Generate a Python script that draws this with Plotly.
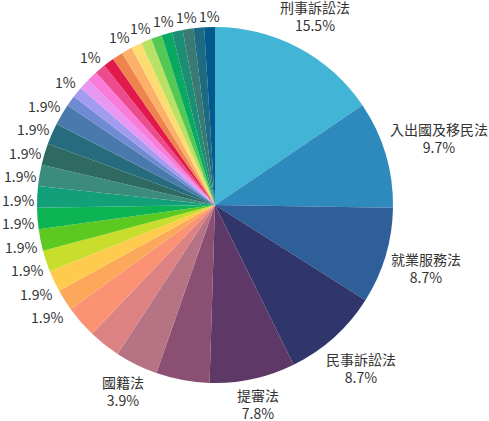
import math
import plotly.graph_objects as go

# slices clockwise from 12 o'clock
labels = ['刑事訴訟法', '入出國及移民法', '就業服務法', '民事訴訟法', '提審法',
          '其他法規01', '國籍法', '其他法規02', '其他法規03',
          '其他法規04', '其他法規05', '其他法規06', '其他法規07', '其他法規08',
          '其他法規09', '其他法規10', '其他法規11', '其他法規12', '其他法規13',
          '其他法規14', '其他法規15', '其他法規16', '其他法規17', '其他法規18',
          '其他法規19', '其他法規20', '其他法規21', '其他法規22', '其他法規23',
          '其他法規24', '其他法規25', '其他法規26', '其他法規27', '其他法規28',
          '其他法規29']
values = [16, 10, 9, 9, 8, 5, 4, 3, 3,
          2, 2, 2, 2, 2, 2, 2, 2, 2, 2,
          1, 1, 1, 1, 1, 1, 1, 1, 1, 1, 1, 1, 1, 1, 1, 1]
# 'name' = label + percent, 'pct' = percent only, '' = label hidden
show = ['name', 'name', 'name', 'name', 'name', '', 'name', '', '',
        'pct', 'pct', 'pct', 'pct', 'pct', 'pct', 'pct', 'pct', 'pct', 'pct',
        '', 'pct', '', '', 'pct', '', '', 'pct', '', 'pct', '', 'pct', '', 'pct', '', 'pct']
colors = ['#42b5d6', '#2e8abd', '#2e5f98', '#30356b', '#5e3866', '#8a4f72', '#b67383',
          '#dc8282', '#fb9274', '#fca85b', '#fecb4f', '#c8dd2c', '#5bc920', '#0db453',
          '#12a079', '#3b8c7c', '#2f6a62', '#276b7f', '#4a7aab', '#6f8bd3', '#a39bf0',
          '#e897f3', '#f97cd9', '#ec4b8e', '#e11a4b', '#ee834e', '#fcb06a', '#fddd72',
          '#b9e163', '#53c853', '#0aa962', '#1c8e76', '#3a7a72', '#1d6b82', '#03598c']

W, H = 489, 421
CX, CY, R = 215, 205, 178
FS = 14


def fmt_pct(p):
    s = '%.1f' % p
    if s.endswith('.0'):
        s = s[:-2]
    return s + '%'


def text_width(s):
    w = 0
    for ch in s:
        if ord(ch) > 0x2e80:
            w += FS
        elif ch == '%':
            w += 12
        elif ch == '.':
            w += 3.5
        else:
            w += 7.8
    return w


total = sum(values)
items = []
cum = 0
for lab, v, s in zip(labels, values, show):
    mid = math.radians((cum + v / 2) / total * 360)
    cum += v
    if not s:
        continue
    pct = fmt_pct(v / total * 100)
    if s == 'name':
        txt = lab + '<br>' + pct
        w = max(text_width(lab), text_width(pct))
        h = 38
    else:
        txt = pct
        w = text_width(pct)
        h = 16
    sx, cy_ = math.sin(mid), math.cos(mid)
    r = R + 3 + abs(sx) * w / 2 + abs(cy_) * h / 2
    items.append(dict(text=txt, x=CX + r * sx, y=CY - r * cy_, w=w, h=h, left=sx < 0))

# push overlapping labels on the left side downward
left = sorted([it for it in items if it['left']], key=lambda it: it['y'])
for prev, cur in zip(left, left[1:]):
    if abs(prev['x'] - cur['x']) < (prev['w'] + cur['w']) / 2:
        cur['y'] = max(cur['y'], prev['y'] + 23.5)

fig = go.Figure(go.Pie(
    labels=labels, values=values, sort=False, direction='clockwise', rotation=0,
    marker=dict(colors=colors, line=dict(width=0)),
    textinfo='none', hoverinfo='label+percent',
    domain=dict(x=[(CX - R) / W, (CX + R) / W], y=[(H - CY - R) / H, (H - CY + R) / H]),
))
for it in items:
    fig.add_annotation(
        x=it['x'] / W, y=1 - it['y'] / H, xref='paper', yref='paper',
        text=it['text'], showarrow=False, xanchor='center', yanchor='middle',
        align='center', font=dict(size=FS, color='#333333'),
    )
fig.update_layout(
    width=W, height=H, showlegend=False,
    margin=dict(l=0, r=0, t=0, b=0),
    font=dict(family='Noto Sans CJK TC', size=FS, color='#333333'),
    paper_bgcolor='white', plot_bgcolor='white',
)
# the page body has a default 8px margin; drop it so the figure fills the window
fig.write_html('out.html', config={'displayModeBar': False},
               post_script="document.body.style.margin='0';")
